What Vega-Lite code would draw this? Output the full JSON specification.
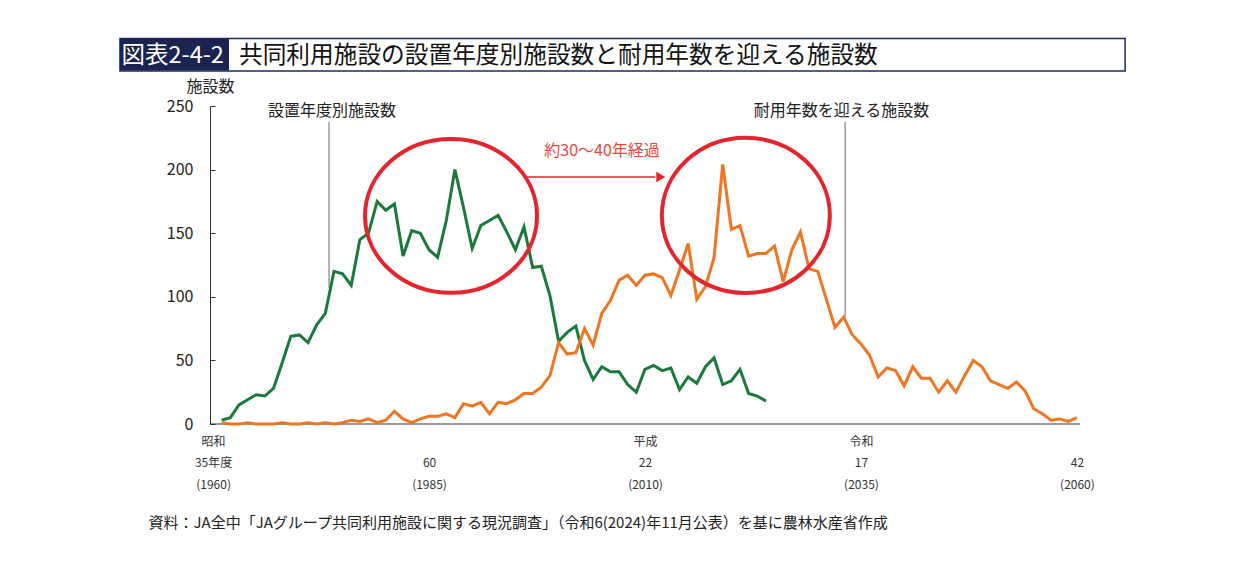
{
  "$schema": "https://vega.github.io/schema/vega-lite/v6.json",
  "description": "共同利用施設の設置年度別施設数と耐用年数を迎える施設数",
  "autosize": {"type": "none"},
  "padding": {"left": 210, "top": 106, "right": 152, "bottom": 162},
  "width": 879,
  "height": 318,
  "background": "white",
  "config": {"font": "Noto Sans CJK JP", "view": {"stroke": null}},
  "datasets": {
    "facilities": [
      {"year": 1960, "series": "設置年度別施設数", "count": 3},
      {"year": 1961, "series": "設置年度別施設数", "count": 5},
      {"year": 1962, "series": "設置年度別施設数", "count": 15},
      {"year": 1963, "series": "設置年度別施設数", "count": 19},
      {"year": 1964, "series": "設置年度別施設数", "count": 23},
      {"year": 1965, "series": "設置年度別施設数", "count": 22},
      {"year": 1966, "series": "設置年度別施設数", "count": 28},
      {"year": 1967, "series": "設置年度別施設数", "count": 48},
      {"year": 1968, "series": "設置年度別施設数", "count": 69},
      {"year": 1969, "series": "設置年度別施設数", "count": 70},
      {"year": 1970, "series": "設置年度別施設数", "count": 64},
      {"year": 1971, "series": "設置年度別施設数", "count": 78},
      {"year": 1972, "series": "設置年度別施設数", "count": 87},
      {"year": 1973, "series": "設置年度別施設数", "count": 120},
      {"year": 1974, "series": "設置年度別施設数", "count": 118},
      {"year": 1975, "series": "設置年度別施設数", "count": 109},
      {"year": 1976, "series": "設置年度別施設数", "count": 145},
      {"year": 1977, "series": "設置年度別施設数", "count": 150},
      {"year": 1978, "series": "設置年度別施設数", "count": 175},
      {"year": 1979, "series": "設置年度別施設数", "count": 168},
      {"year": 1980, "series": "設置年度別施設数", "count": 173},
      {"year": 1981, "series": "設置年度別施設数", "count": 132},
      {"year": 1982, "series": "設置年度別施設数", "count": 152},
      {"year": 1983, "series": "設置年度別施設数", "count": 150},
      {"year": 1984, "series": "設置年度別施設数", "count": 137},
      {"year": 1985, "series": "設置年度別施設数", "count": 131},
      {"year": 1986, "series": "設置年度別施設数", "count": 160},
      {"year": 1987, "series": "設置年度別施設数", "count": 200},
      {"year": 1988, "series": "設置年度別施設数", "count": 170},
      {"year": 1989, "series": "設置年度別施設数", "count": 138},
      {"year": 1990, "series": "設置年度別施設数", "count": 156},
      {"year": 1991, "series": "設置年度別施設数", "count": 160},
      {"year": 1992, "series": "設置年度別施設数", "count": 164},
      {"year": 1993, "series": "設置年度別施設数", "count": 151},
      {"year": 1994, "series": "設置年度別施設数", "count": 137},
      {"year": 1995, "series": "設置年度別施設数", "count": 155},
      {"year": 1996, "series": "設置年度別施設数", "count": 123},
      {"year": 1997, "series": "設置年度別施設数", "count": 124},
      {"year": 1998, "series": "設置年度別施設数", "count": 101},
      {"year": 1999, "series": "設置年度別施設数", "count": 65},
      {"year": 2000, "series": "設置年度別施設数", "count": 72},
      {"year": 2001, "series": "設置年度別施設数", "count": 77},
      {"year": 2002, "series": "設置年度別施設数", "count": 50},
      {"year": 2003, "series": "設置年度別施設数", "count": 35},
      {"year": 2004, "series": "設置年度別施設数", "count": 45},
      {"year": 2005, "series": "設置年度別施設数", "count": 41},
      {"year": 2006, "series": "設置年度別施設数", "count": 41},
      {"year": 2007, "series": "設置年度別施設数", "count": 31},
      {"year": 2008, "series": "設置年度別施設数", "count": 25},
      {"year": 2009, "series": "設置年度別施設数", "count": 43},
      {"year": 2010, "series": "設置年度別施設数", "count": 46},
      {"year": 2011, "series": "設置年度別施設数", "count": 42},
      {"year": 2012, "series": "設置年度別施設数", "count": 44},
      {"year": 2013, "series": "設置年度別施設数", "count": 27},
      {"year": 2014, "series": "設置年度別施設数", "count": 37},
      {"year": 2015, "series": "設置年度別施設数", "count": 32},
      {"year": 2016, "series": "設置年度別施設数", "count": 45},
      {"year": 2017, "series": "設置年度別施設数", "count": 52},
      {"year": 2018, "series": "設置年度別施設数", "count": 31},
      {"year": 2019, "series": "設置年度別施設数", "count": 34},
      {"year": 2020, "series": "設置年度別施設数", "count": 43},
      {"year": 2021, "series": "設置年度別施設数", "count": 24},
      {"year": 2022, "series": "設置年度別施設数", "count": 22},
      {"year": 2023, "series": "設置年度別施設数", "count": 18},
      {"year": 1960, "series": "耐用年数を迎える施設数", "count": 1},
      {"year": 1961, "series": "耐用年数を迎える施設数", "count": 0},
      {"year": 1962, "series": "耐用年数を迎える施設数", "count": 0},
      {"year": 1963, "series": "耐用年数を迎える施設数", "count": 1},
      {"year": 1964, "series": "耐用年数を迎える施設数", "count": 0},
      {"year": 1965, "series": "耐用年数を迎える施設数", "count": 0},
      {"year": 1966, "series": "耐用年数を迎える施設数", "count": 0},
      {"year": 1967, "series": "耐用年数を迎える施設数", "count": 1},
      {"year": 1968, "series": "耐用年数を迎える施設数", "count": 0},
      {"year": 1969, "series": "耐用年数を迎える施設数", "count": 0},
      {"year": 1970, "series": "耐用年数を迎える施設数", "count": 1},
      {"year": 1971, "series": "耐用年数を迎える施設数", "count": 0},
      {"year": 1972, "series": "耐用年数を迎える施設数", "count": 1},
      {"year": 1973, "series": "耐用年数を迎える施設数", "count": 0},
      {"year": 1974, "series": "耐用年数を迎える施設数", "count": 1},
      {"year": 1975, "series": "耐用年数を迎える施設数", "count": 3},
      {"year": 1976, "series": "耐用年数を迎える施設数", "count": 2},
      {"year": 1977, "series": "耐用年数を迎える施設数", "count": 4},
      {"year": 1978, "series": "耐用年数を迎える施設数", "count": 1},
      {"year": 1979, "series": "耐用年数を迎える施設数", "count": 3},
      {"year": 1980, "series": "耐用年数を迎える施設数", "count": 10},
      {"year": 1981, "series": "耐用年数を迎える施設数", "count": 4},
      {"year": 1982, "series": "耐用年数を迎える施設数", "count": 1},
      {"year": 1983, "series": "耐用年数を迎える施設数", "count": 4},
      {"year": 1984, "series": "耐用年数を迎える施設数", "count": 6},
      {"year": 1985, "series": "耐用年数を迎える施設数", "count": 6},
      {"year": 1986, "series": "耐用年数を迎える施設数", "count": 8},
      {"year": 1987, "series": "耐用年数を迎える施設数", "count": 5},
      {"year": 1988, "series": "耐用年数を迎える施設数", "count": 16},
      {"year": 1989, "series": "耐用年数を迎える施設数", "count": 14},
      {"year": 1990, "series": "耐用年数を迎える施設数", "count": 17},
      {"year": 1991, "series": "耐用年数を迎える施設数", "count": 8},
      {"year": 1992, "series": "耐用年数を迎える施設数", "count": 17},
      {"year": 1993, "series": "耐用年数を迎える施設数", "count": 16},
      {"year": 1994, "series": "耐用年数を迎える施設数", "count": 19},
      {"year": 1995, "series": "耐用年数を迎える施設数", "count": 24},
      {"year": 1996, "series": "耐用年数を迎える施設数", "count": 24},
      {"year": 1997, "series": "耐用年数を迎える施設数", "count": 29},
      {"year": 1998, "series": "耐用年数を迎える施設数", "count": 38},
      {"year": 1999, "series": "耐用年数を迎える施設数", "count": 64},
      {"year": 2000, "series": "耐用年数を迎える施設数", "count": 55},
      {"year": 2001, "series": "耐用年数を迎える施設数", "count": 56},
      {"year": 2002, "series": "耐用年数を迎える施設数", "count": 75},
      {"year": 2003, "series": "耐用年数を迎える施設数", "count": 62},
      {"year": 2004, "series": "耐用年数を迎える施設数", "count": 87},
      {"year": 2005, "series": "耐用年数を迎える施設数", "count": 97},
      {"year": 2006, "series": "耐用年数を迎える施設数", "count": 113},
      {"year": 2007, "series": "耐用年数を迎える施設数", "count": 117},
      {"year": 2008, "series": "耐用年数を迎える施設数", "count": 109},
      {"year": 2009, "series": "耐用年数を迎える施設数", "count": 117},
      {"year": 2010, "series": "耐用年数を迎える施設数", "count": 118},
      {"year": 2011, "series": "耐用年数を迎える施設数", "count": 115},
      {"year": 2012, "series": "耐用年数を迎える施設数", "count": 101},
      {"year": 2013, "series": "耐用年数を迎える施設数", "count": 121},
      {"year": 2014, "series": "耐用年数を迎える施設数", "count": 142},
      {"year": 2015, "series": "耐用年数を迎える施設数", "count": 98},
      {"year": 2016, "series": "耐用年数を迎える施設数", "count": 108},
      {"year": 2017, "series": "耐用年数を迎える施設数", "count": 131},
      {"year": 2018, "series": "耐用年数を迎える施設数", "count": 204},
      {"year": 2019, "series": "耐用年数を迎える施設数", "count": 153},
      {"year": 2020, "series": "耐用年数を迎える施設数", "count": 156},
      {"year": 2021, "series": "耐用年数を迎える施設数", "count": 132},
      {"year": 2022, "series": "耐用年数を迎える施設数", "count": 134},
      {"year": 2023, "series": "耐用年数を迎える施設数", "count": 134},
      {"year": 2024, "series": "耐用年数を迎える施設数", "count": 140},
      {"year": 2025, "series": "耐用年数を迎える施設数", "count": 112},
      {"year": 2026, "series": "耐用年数を迎える施設数", "count": 137},
      {"year": 2027, "series": "耐用年数を迎える施設数", "count": 151},
      {"year": 2028, "series": "耐用年数を迎える施設数", "count": 122},
      {"year": 2029, "series": "耐用年数を迎える施設数", "count": 120},
      {"year": 2030, "series": "耐用年数を迎える施設数", "count": 98},
      {"year": 2031, "series": "耐用年数を迎える施設数", "count": 76},
      {"year": 2032, "series": "耐用年数を迎える施設数", "count": 84},
      {"year": 2033, "series": "耐用年数を迎える施設数", "count": 70},
      {"year": 2034, "series": "耐用年数を迎える施設数", "count": 63},
      {"year": 2035, "series": "耐用年数を迎える施設数", "count": 54},
      {"year": 2036, "series": "耐用年数を迎える施設数", "count": 37},
      {"year": 2037, "series": "耐用年数を迎える施設数", "count": 44},
      {"year": 2038, "series": "耐用年数を迎える施設数", "count": 42},
      {"year": 2039, "series": "耐用年数を迎える施設数", "count": 30},
      {"year": 2040, "series": "耐用年数を迎える施設数", "count": 45},
      {"year": 2041, "series": "耐用年数を迎える施設数", "count": 36},
      {"year": 2042, "series": "耐用年数を迎える施設数", "count": 36},
      {"year": 2043, "series": "耐用年数を迎える施設数", "count": 25},
      {"year": 2044, "series": "耐用年数を迎える施設数", "count": 34},
      {"year": 2045, "series": "耐用年数を迎える施設数", "count": 25},
      {"year": 2046, "series": "耐用年数を迎える施設数", "count": 38},
      {"year": 2047, "series": "耐用年数を迎える施設数", "count": 50},
      {"year": 2048, "series": "耐用年数を迎える施設数", "count": 45},
      {"year": 2049, "series": "耐用年数を迎える施設数", "count": 34},
      {"year": 2050, "series": "耐用年数を迎える施設数", "count": 31},
      {"year": 2051, "series": "耐用年数を迎える施設数", "count": 28},
      {"year": 2052, "series": "耐用年数を迎える施設数", "count": 33},
      {"year": 2053, "series": "耐用年数を迎える施設数", "count": 26},
      {"year": 2054, "series": "耐用年数を迎える施設数", "count": 12},
      {"year": 2055, "series": "耐用年数を迎える施設数", "count": 8},
      {"year": 2056, "series": "耐用年数を迎える施設数", "count": 3},
      {"year": 2057, "series": "耐用年数を迎える施設数", "count": 4},
      {"year": 2058, "series": "耐用年数を迎える施設数", "count": 2},
      {"year": 2059, "series": "耐用年数を迎える施設数", "count": 5}
    ]
  },
  "layer": [
    {
      "data": {"values": [{}]},
      "mark": {"type": "rect", "fill": "white", "stroke": "#1f2a5c", "strokeWidth": 1.5},
      "encoding": {
        "x": {"datum": 1948.23}, "x2": {"datum": 2064.58},
        "y": {"datum": 303}, "y2": {"datum": 277.5}
      }
    },
    {
      "data": {"values": [{}]},
      "mark": {"type": "rect", "fill": "#1b2450"},
      "encoding": {
        "x": {"datum": 1948.23}, "x2": {"datum": 1960.85},
        "y": {"datum": 302.6}, "y2": {"datum": 277.9}
      }
    },
    {
      "data": {"values": [{}]},
      "mark": {"type": "text", "align": "left", "baseline": "middle", "fontSize": 23.5, "fontWeight": "normal", "color": "white"},
      "encoding": {
        "x": {"datum": 1948.4}, "y": {"datum": 289.2},
        "text": {"value": "図表2-4-2"}
      }
    },
    {
      "data": {"values": [{}]},
      "mark": {"type": "text", "align": "left", "baseline": "middle", "fontSize": 23.7, "fontWeight": "normal", "color": "#111"},
      "encoding": {
        "x": {"datum": 1962.0}, "y": {"datum": 289.2},
        "text": {"value": "共同利用施設の設置年度別施設数と耐用年数を迎える施設数"}
      }
    },
    {
      "data": {"values": [{}]},
      "mark": {"type": "rule", "stroke": "#666", "strokeWidth": 1},
      "encoding": {"x": {"datum": 1972.43}, "y": {"datum": 237.4}, "y2": {"datum": 107}}
    },
    {
      "data": {"values": [{}]},
      "mark": {"type": "rule", "stroke": "#666", "strokeWidth": 1},
      "encoding": {"x": {"datum": 2032.17}, "y": {"datum": 237.4}, "y2": {"datum": 84.3}}
    },
    {
      "data": {"values": [{}]},
      "mark": {"type": "rule", "stroke": "#333", "strokeWidth": 1},
      "encoding": {"x": {"datum": 1958.65}, "x2": {"datum": 2059.37}, "y": {"datum": 0}}
    },
    {
      "data": {"name": "facilities"},
      "mark": {"type": "line", "strokeWidth": 3},
      "encoding": {
        "x": {
          "field": "year", "type": "quantitative",
          "scale": {"domain": [1958.65, 2060.4], "nice": false, "zero": false},
          "axis": {
            "values": [1960, 1985, 2010, 2035, 2060],
            "labelExpr": "datum.value == 1960 ? ['昭和', '35年度', '(1960)'] : datum.value == 1985 ? ['', '60', '(1985)'] : datum.value == 2010 ? ['平成', '22', '(2010)'] : datum.value == 2035 ? ['令和', '17', '(2035)'] : ['', '42', '(2060)']",
            "labelOffset": -8.6,
            "labelFontSize": 12,
            "labelLineHeight": 21.5,
            "labelPadding": 12,
            "labelColor": "#333",
            "labelOverlap": false,
            "labelFlush": false,
            "ticks": false,
            "domain": false,
            "grid": false,
            "title": "資料：JA全中「JAグループ共同利用施設に関する現況調査」（令和6(2024)年11月公表）を基に農林水産省作成",
            "titleX": -62,
            "titleY": 98,
            "titleAlign": "left",
            "titleBaseline": "middle",
            "titleFontSize": 15,
            "titleFontWeight": "normal",
            "titleColor": "#222"
          }
        },
        "y": {
          "field": "count", "type": "quantitative",
          "scale": {"domain": [0, 250], "nice": false, "zero": true},
          "axis": {
            "values": [0, 50, 100, 150, 200, 250],
            "labelFontSize": 16,
            "labelColor": "#222",
            "labelPadding": 22,
            "tickSize": -5,
            "tickColor": "#333",
            "domainColor": "#333",
            "grid": false,
            "title": "施設数",
            "titleAngle": 0,
            "titleX": 0,
            "titleY": -20,
            "titleAlign": "center",
            "titleBaseline": "middle",
            "titleFontSize": 16,
            "titleFontWeight": "normal",
            "titleColor": "#222"
          }
        },
        "color": {
          "field": "series", "type": "nominal",
          "scale": {"domain": ["設置年度別施設数", "耐用年数を迎える施設数"], "range": ["#1b7a3a", "#ee7623"]},
          "legend": null
        }
      }
    },
    {
      "data": {"values": [{}]},
      "mark": {"type": "text", "align": "center", "baseline": "middle", "fontSize": 16, "color": "#222"},
      "encoding": {"x": {"datum": 1972.77}, "y": {"datum": 246.1}, "text": {"value": "設置年度別施設数"}}
    },
    {
      "data": {"values": [{}]},
      "mark": {"type": "text", "align": "center", "baseline": "middle", "fontSize": 16, "color": "#222"},
      "encoding": {"x": {"datum": 2031.76}, "y": {"datum": 246.1}, "text": {"value": "耐用年数を迎える施設数"}}
    },
    {
      "data": {"values": [{}]},
      "mark": {"type": "point", "shape": "M-1,0A1,0.895,0,1,1,1,0A1,0.895,0,1,1,-1,0Z", "size": 29584, "filled": false, "stroke": "#e3262d", "strokeWidth": 4, "opacity": 1},
      "encoding": {"x": {"datum": 1986.55}, "y": {"datum": 163.6}}
    },
    {
      "data": {"values": [{}]},
      "mark": {"type": "point", "shape": "M-1,0A1,0.923,0,1,1,1,0A1,0.923,0,1,1,-1,0Z", "size": 28224, "filled": false, "stroke": "#e3262d", "strokeWidth": 4, "opacity": 1},
      "encoding": {"x": {"datum": 2020.68}, "y": {"datum": 164.0}}
    },
    {
      "data": {"values": [{}]},
      "mark": {"type": "rule", "stroke": "#e3262d", "strokeWidth": 1.5},
      "encoding": {"x": {"datum": 1995.35}, "x2": {"datum": 2010.2}, "y": {"datum": 194.2}}
    },
    {
      "data": {"values": [{}]},
      "mark": {"type": "point", "shape": "triangle-right", "size": 110, "filled": true, "color": "#e3262d", "opacity": 1},
      "encoding": {"x": {"datum": 2010.84}, "y": {"datum": 194.2}}
    },
    {
      "data": {"values": [{}]},
      "mark": {"type": "text", "align": "center", "baseline": "middle", "fontSize": 16, "color": "#e8473e"},
      "encoding": {"x": {"datum": 2004.03}, "y": {"datum": 214.7}, "text": {"value": "約30～40年経過"}}
    }
  ]
}
